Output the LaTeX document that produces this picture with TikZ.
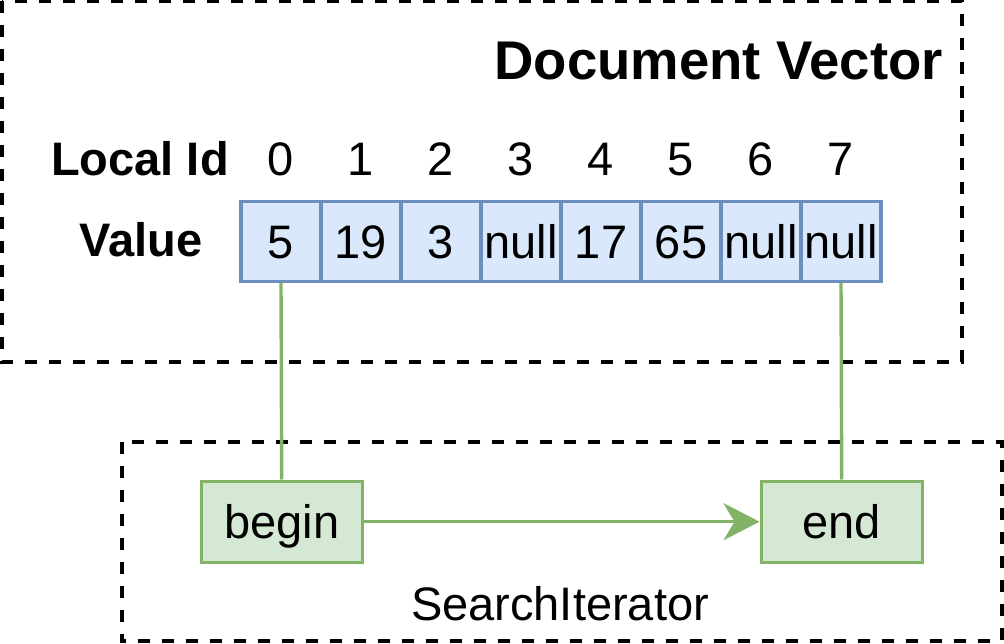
\documentclass[tikz,border=0pt]{standalone}
\usepackage{fontspec}
\setmainfont{Liberation Sans}
\usetikzlibrary{arrows.meta}
\definecolor{bluefill}{HTML}{DAE8FC}
\definecolor{bluedraw}{HTML}{6C8EBF}
\definecolor{greenfill}{HTML}{D5E8D4}
\definecolor{greendraw}{HTML}{82B366}
\tikzset{
  container/.style={draw=black, line width=4pt, dash pattern=on 12pt off 12pt},
  cell/.style={draw=bluedraw, fill=bluefill, line width=3.4pt, minimum width=80pt, minimum height=80pt, inner sep=0pt, text height=34pt, text depth=0pt, font=\fontsize{47}{56}\selectfont},
  iterbox/.style={draw=greendraw, fill=greenfill, line width=3.4pt, minimum width=161pt, minimum height=81pt, inner sep=0pt, text height=34pt, text depth=0pt, font=\fontsize{47}{56}\selectfont},
  lbl/.style={anchor=base, inner sep=0pt, font=\fontsize{47}{56}\selectfont},
  boldlbl/.style={anchor=base, inner sep=0pt, font=\fontsize{47}{56}\selectfont\bfseries},
  link/.style={draw=greendraw, line width=3.4pt},
}
\begin{document}
\begin{tikzpicture}[x=1pt, y=-1pt]
\useasboundingbox (0,0) rectangle (1004,644);
% containers
\draw[container] (1.7,1) rectangle (961.7,361.7);
\draw[container] (121.7,441.7) rectangle (1001.7,641);
% titles
\node[anchor=base east, inner sep=0pt, font=\fontsize{54.5}{64}\selectfont\bfseries] (title) at (943,80) {Document Vector};
\node[boldlbl] (localid) at (140,176) {Local Id};
\node[boldlbl] (valuelbl) at (141,257) {Value};
% cells
\foreach \v [count=\i from 0] in {5,19,3,null,17,65,null,null} {
  \node[lbl] (id\i) at (281+80*\i,176) {\i};
  \node[cell] (c\i) at (281+80*\i,241.5) {\v};
}
% iterator
\node[iterbox] (begin) at (281.7,521.7) {begin};
\node[iterbox] (end) at (841.7,521.7) {end};
\node[lbl] (searchit) at (560,620) {SearchIterator};
% connectors
\draw[link] (c0.south) -- (begin.north);
\draw[link] (c7.south) -- (end.north);
\draw[link, -{Stealth[length=36pt, width=37pt, inset=11pt, fill=greendraw]}] (begin.east) -- (end.west);
\end{tikzpicture}
\end{document}
